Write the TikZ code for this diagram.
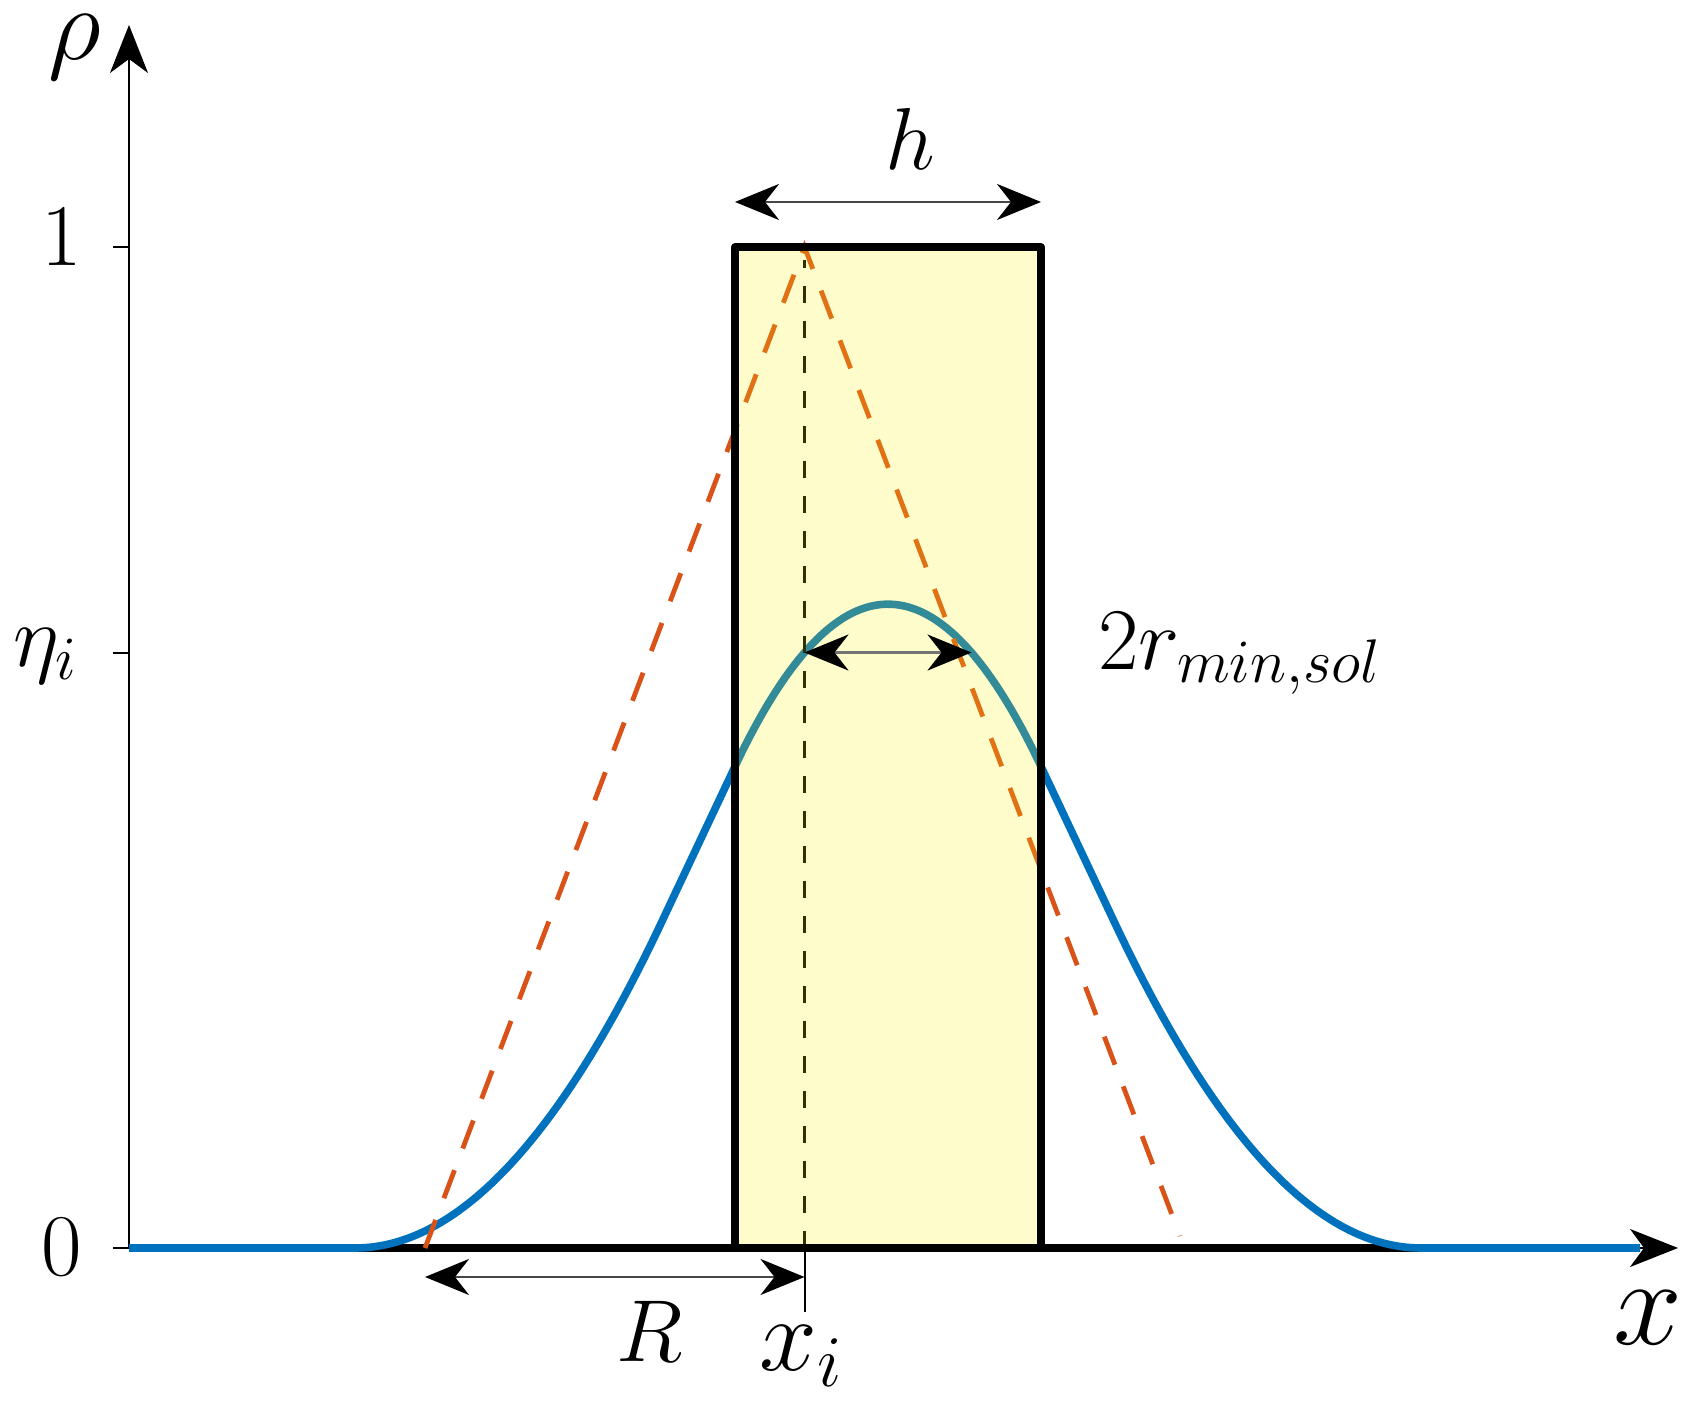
\RequirePackage{fix-cm}
\documentclass[tikz,border=0pt]{standalone}
\usetikzlibrary{arrows.meta}
\definecolor{mblue}{RGB}{0,114,189}
\definecolor{morange}{RGB}{217,83,25}
\definecolor{dimgray}{RGB}{70,70,70}
\begin{document}
\begin{tikzpicture}[x=0.25pt,y=0.25pt,
  declare function={
    clampv(\t)=max(-1,min(1,\t));
    Gf(\t)=clampv(\t)-clampv(\t)*abs(clampv(\t))/2;
    rhof(\x)=Gf((\x-888+153)/380)-Gf((\x-888-153)/380);
  },
  axis/.style={line width=0.5pt,-{Stealth[length=12pt,width=9.5pt,inset=3.5pt]}},
  tickline/.style={line width=0.5pt},
  dimarrow/.style={line width=0.7pt,draw=dimgray,
    {Stealth[length=11pt,width=9pt,inset=3.5pt,color=black]}-{Stealth[length=11pt,width=9pt,inset=3.5pt,color=black]}},
  lbl/.style={inner sep=0pt,font=\fontsize{22}{26}\selectfont},
  biglbl/.style={inner sep=0pt,font=\fontsize{31}{35}\selectfont},
  midlbl/.style={inner sep=0pt,font=\fontsize{26}{30}\selectfont},
  bluecurve/.style={draw=mblue,line width=1.9pt},
  orangedash/.style={draw=morange,line width=1.2pt,dash pattern=on 7.5pt off 5.8pt},
  blackdash/.style={draw=black,line width=0.8pt,dash pattern=on 4.25pt off 4.5pt},
  stepline/.style={draw=black,line width=1.8pt,line join=round},
]
\useasboundingbox (0,0) rectangle (1700,1410);
\pgfmathsetmacro\etay{162+1001*rhof(804.5)}
% key coordinates
\coordinate (O) at (129,162);
\coordinate (ytip) at (129,1385);
\coordinate (xtip) at (1678,162);
\coordinate (xend) at (1640,162);
\coordinate (rbl) at (735,162);
\coordinate (rtl) at (735,1163);
\coordinate (rtr) at (1041,1163);
\coordinate (rbr) at (1041,162);
\coordinate (xi0) at (804.5,162);
\coordinate (xitop) at (804.5,1150);
\coordinate (xilow) at (804.5,98);
\coordinate (apex) at (804.5,1163);
\coordinate (oleft) at (425,162);
\coordinate (oright) at (1180,174);
\coordinate (etaL) at (804.5,\etay);
\coordinate (etaR) at (971.5,\etay);
\coordinate (t1a) at (113,1163);
\coordinate (t1b) at (129,1163);
\coordinate (tea) at (113,\etay);
\coordinate (teb) at (129,\etay);
\coordinate (t0a) at (113,162);
\coordinate (hL) at (735,1208);
\coordinate (hR) at (1041,1208);
\coordinate (RL) at (425,133);
\coordinate (RR) at (804.5,133);

% axes
\draw[axis] (O) -- (ytip);
\draw[axis] (O) -- (xtip);
\draw[tickline] (t1a) -- (t1b);
\draw[tickline] (tea) -- (teb);
\draw[tickline] (t0a) -- (O);

% step function baseline
\draw[stepline] (O) -- (rbl) (rbr) -- (xend);

% filtered density
\draw[bluecurve] plot[domain=129:1640,samples=400] (\x,{162+1001*rhof(\x)});

% cone filter
\draw[orangedash] (oleft) -- (apex) -- (oright);

% x_i dashed line
\draw[blackdash] (xi0) -- (xitop);
\draw[tickline] (xi0) -- (xilow);

% box (semi-transparent fill, then border)
\fill[yellow,fill opacity=0.2] (rbl) rectangle (rtr);
\draw[stepline] (rbl) -- (rtl) -- (rtr) -- (rbr) -- cycle;

% dimension arrows
\draw[dimarrow] (hL) -- (hR);
\draw[dimarrow] (RL) -- (RR);
\draw[dimarrow,draw=black!55] (etaL) -- (etaR);

% labels
\node[midlbl] (lrho) at (75,1363) {$\rho$};
\node[lbl] (lone) at (62,1173) {$1$};
\node[lbl] (leta) at (46,754) {$\eta_i$};
\node[lbl] (lzero) at (62,163) {$0$};
\node[lbl] (lh) at (910,1271) {$h$};
\node[lbl] (lr) at (1240,756) {$2r_{min,sol}$};
\node[lbl] (lR) at (650,79) {$R$};
\node[midlbl] (lxi) at (802,54) {$x_i$};
\node[biglbl] (lx) at (1648,92) {$x$};
\end{tikzpicture}
\end{document}
